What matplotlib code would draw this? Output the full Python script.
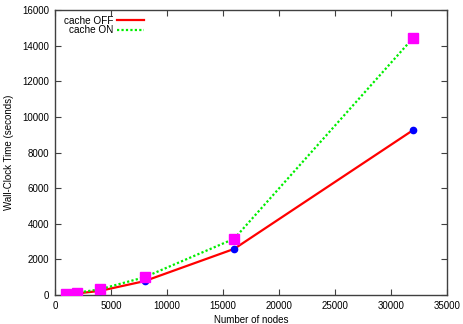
import matplotlib
matplotlib.use("Agg")
import matplotlib.pyplot as plt

plt.rcParams['font.family'] = ['Liberation Sans', 'DejaVu Sans']

nodes = [1000, 2000, 4000, 8000, 16000, 32000]
cache_off = [30, 90, 230, 780, 2590, 9270]
cache_on = [50, 130, 320, 1000, 3160, 14450]

fig = plt.figure(figsize=(4.63, 3.24), dpi=100)
ax = fig.add_axes([0.1188, 0.0895, 0.8466, 0.8795])

ax.plot(nodes, cache_off, color='#ff0000', linewidth=1.6, label='cache OFF', zorder=3)
ax.plot(nodes, cache_on, color='#00ee00', linewidth=1.6, linestyle=(0, (1, 1)), label='cache ON', zorder=3)
ax.plot(nodes, cache_off, linestyle='none', marker='o', markersize=4.5, color='#0000ff', zorder=4)
ax.plot(nodes, cache_on, linestyle='none', marker='s', markersize=7, color='#ff00ff', zorder=5)

ax.set_xlim(0, 35000)
ax.set_ylim(0, 16000)
ax.set_xticks(range(0, 35001, 5000))
ax.set_yticks(range(0, 16001, 2000))
ax.tick_params(direction='in', top=True, right=True, length=4, width=0.8,
               labelsize=7, color='#404040', pad=4)
for s in ax.spines.values():
    s.set_color('#404040')
    s.set_linewidth(1.0)

ax.set_xlabel('Number of nodes', fontsize=7, labelpad=3)
ax.set_ylabel('Wall-Clock Time (seconds)', fontsize=7, labelpad=6)

ax.legend(loc='upper left', bbox_to_anchor=(0.004, 1.005), frameon=False, markerfirst=False,
          fontsize=7.2, handlelength=2.7, handletextpad=0.4, labelspacing=-0.05, borderaxespad=0.3)

fig.savefig('out.png', dpi=100)
